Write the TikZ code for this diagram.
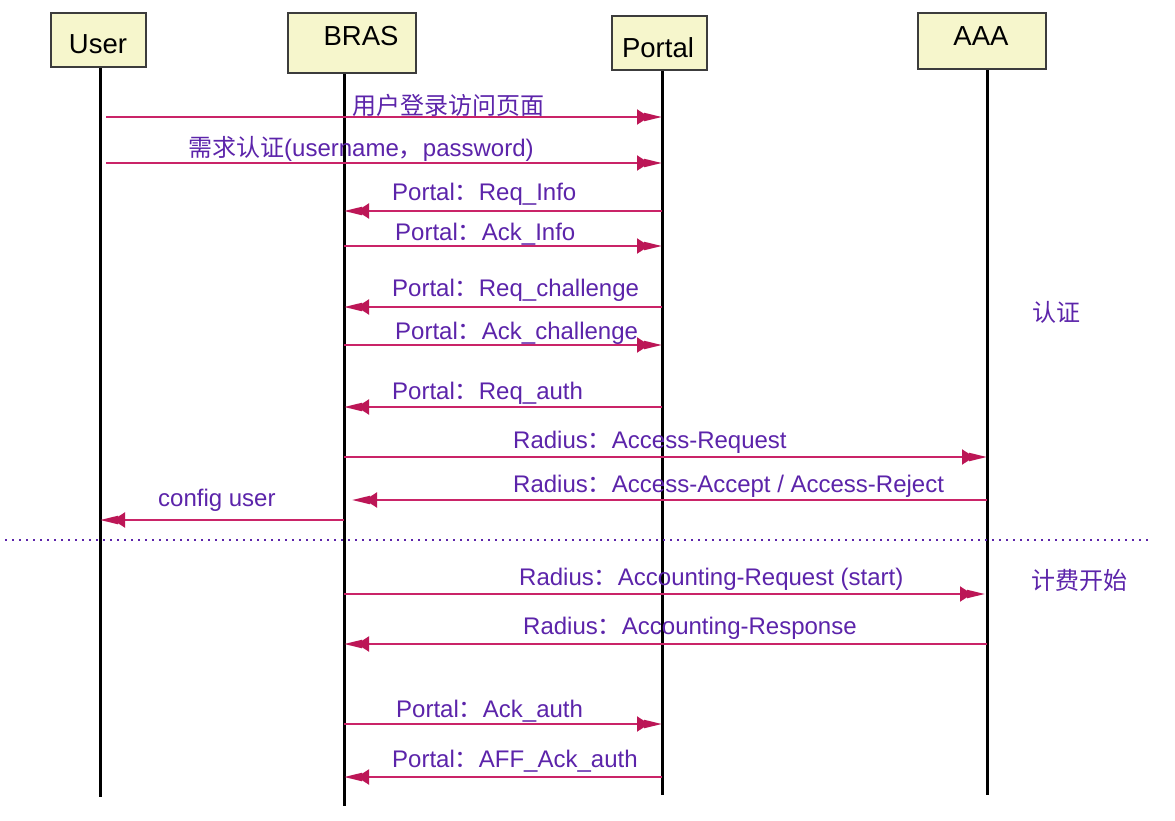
\documentclass[tikz,border=0pt]{standalone}
\usepackage{fontspec}
\setmainfont{Liberation Sans}
\newfontfamily\cjk{Noto Sans CJK SC}
\usetikzlibrary{arrows.meta}
\definecolor{msgline}{RGB}{202,36,104}
\definecolor{msghead}{RGB}{188,22,86}
\definecolor{msgtext}{RGB}{92,36,170}
\definecolor{boxfill}{RGB}{246,246,204}
\definecolor{boxline}{RGB}{60,60,60}
\tikzset{
  actor/.style={draw=boxline, line width=2pt, fill=boxfill, inner sep=0pt},
  lifeline/.style={line width=3pt, draw=black},
  msg/.style={draw=msgline, line width=2pt,
    -{Triangle[length=12pt,width=15pt,sep=-5pt,color=msghead] Triangle[length=18pt,width=8pt,color=msghead]}},
  lbl/.style={anchor=base west, inner sep=0pt, text=msgtext, font=\fontsize{24}{28}\selectfont},
  hdr/.style={anchor=base, inner sep=0pt, font=\fontsize{27.5}{32}\selectfont},
  sep/.style={draw=msgtext, line width=1.6pt, dash pattern=on 1.6pt off 5.4pt},
}
\begin{document}
\begin{tikzpicture}[x=1pt,y=-1pt]
\useasboundingbox[fill=white] (0,0) rectangle (1175,820);
% lifeline coordinates
\coordinate (uT) at (100,67);  \coordinate (uB) at (100,797);
\coordinate (bT) at (344,73);  \coordinate (bB) at (344,806);
\coordinate (pT) at (662,70);  \coordinate (pB) at (662,795);
\coordinate (aT) at (987,69);  \coordinate (aB) at (987,795);
\draw[lifeline] (uT) -- (uB);
\draw[lifeline] (bT) -- (bB);
\draw[lifeline] (pT) -- (pB);
\draw[lifeline] (aT) -- (aB);
% actor boxes
\node[actor, minimum width=95pt, minimum height=54pt] (userBox) at (98.5,40) {};
\node[actor, minimum width=128pt, minimum height=60pt] (brasBox) at (352,43) {};
\node[actor, minimum width=95pt, minimum height=54pt] (portalBox) at (659.5,43) {};
\node[actor, minimum width=128pt, minimum height=56pt] (aaaBox) at (982,41) {};
\node[hdr] (userTxt) at (98,53) {User};
\node[hdr] (brasTxt) at (361,45) {BRAS};
\node[hdr] (portalTxt) at (658,57) {Portal};
\node[hdr] (aaaTxt) at (981,45) {AAA};
% separator
\coordinate (sepL) at (5,540);
\coordinate (sepR) at (1148,540);
\draw[sep] (sepL) -- (sepR);
% messages
\draw[msg, shorten <=6pt] (uT |- 0,117) -- (pT |- 0,117);
\node[lbl] (m1) at (352,114) {\cjk 用户登录访问页面};
\draw[msg, shorten <=6pt] (uT |- 0,163) -- (pT |- 0,163);
\node[lbl] (m2) at (188,156) {{\cjk 需求认证}(username{\cjk ，}password)};
\draw[msg] (pT |- 0,211) -- (bT |- 0,211);
\node[lbl] (m3) at (392,200) {Portal{\cjk ：}Req\_Info};
\draw[msg] (bT |- 0,246) -- (pT |- 0,246);
\node[lbl] (m4) at (395,240) {Portal{\cjk ：}Ack\_Info};
\draw[msg] (pT |- 0,307) -- (bT |- 0,307);
\node[lbl] (m5) at (392,296) {Portal{\cjk ：}Req\_challenge};
\draw[msg] (bT |- 0,345) -- (pT |- 0,345);
\node[lbl] (m6) at (395,339) {Portal{\cjk ：}Ack\_challenge};
\draw[msg] (pT |- 0,407) -- (bT |- 0,407);
\node[lbl] (m7) at (392,399) {Portal{\cjk ：}Req\_auth};
\draw[msg] (bT |- 0,457) -- (aT |- 0,457);
\node[lbl] (m8) at (513,448) {Radius{\cjk ：}Access-Request};
\draw[msg, shorten >=8pt] (aT |- 0,500) -- (bT |- 0,500);
\node[lbl] (m9) at (513,492) {Radius{\cjk ：}Access-Accept / Access-Reject};
\draw[msg] (bT |- 0,520) -- (uT |- 0,520);
\node[lbl] (m10) at (158,506) {config user};
\draw[msg, shorten >=2pt] (bT |- 0,594) -- (aT |- 0,594);
\node[lbl] (m11) at (519,585) {Radius{\cjk ：}Accounting-Request (start)};
\draw[msg] (aT |- 0,644) -- (bT |- 0,644);
\node[lbl] (m12) at (523,634) {Radius{\cjk ：}Accounting-Response};
\draw[msg] (bT |- 0,724) -- (pT |- 0,724);
\node[lbl] (m13) at (396,717) {Portal{\cjk ：}Ack\_auth};
\draw[msg] (pT |- 0,777) -- (bT |- 0,777);
\node[lbl] (m14) at (392,767) {Portal{\cjk ：}AFF\_Ack\_auth};
% phase labels
\node[lbl] (phaseAuth) at (1032,321) {\cjk 认证};
\node[lbl] (phaseAcct) at (1031,589) {\cjk 计费开始};
\end{tikzpicture}
\end{document}
